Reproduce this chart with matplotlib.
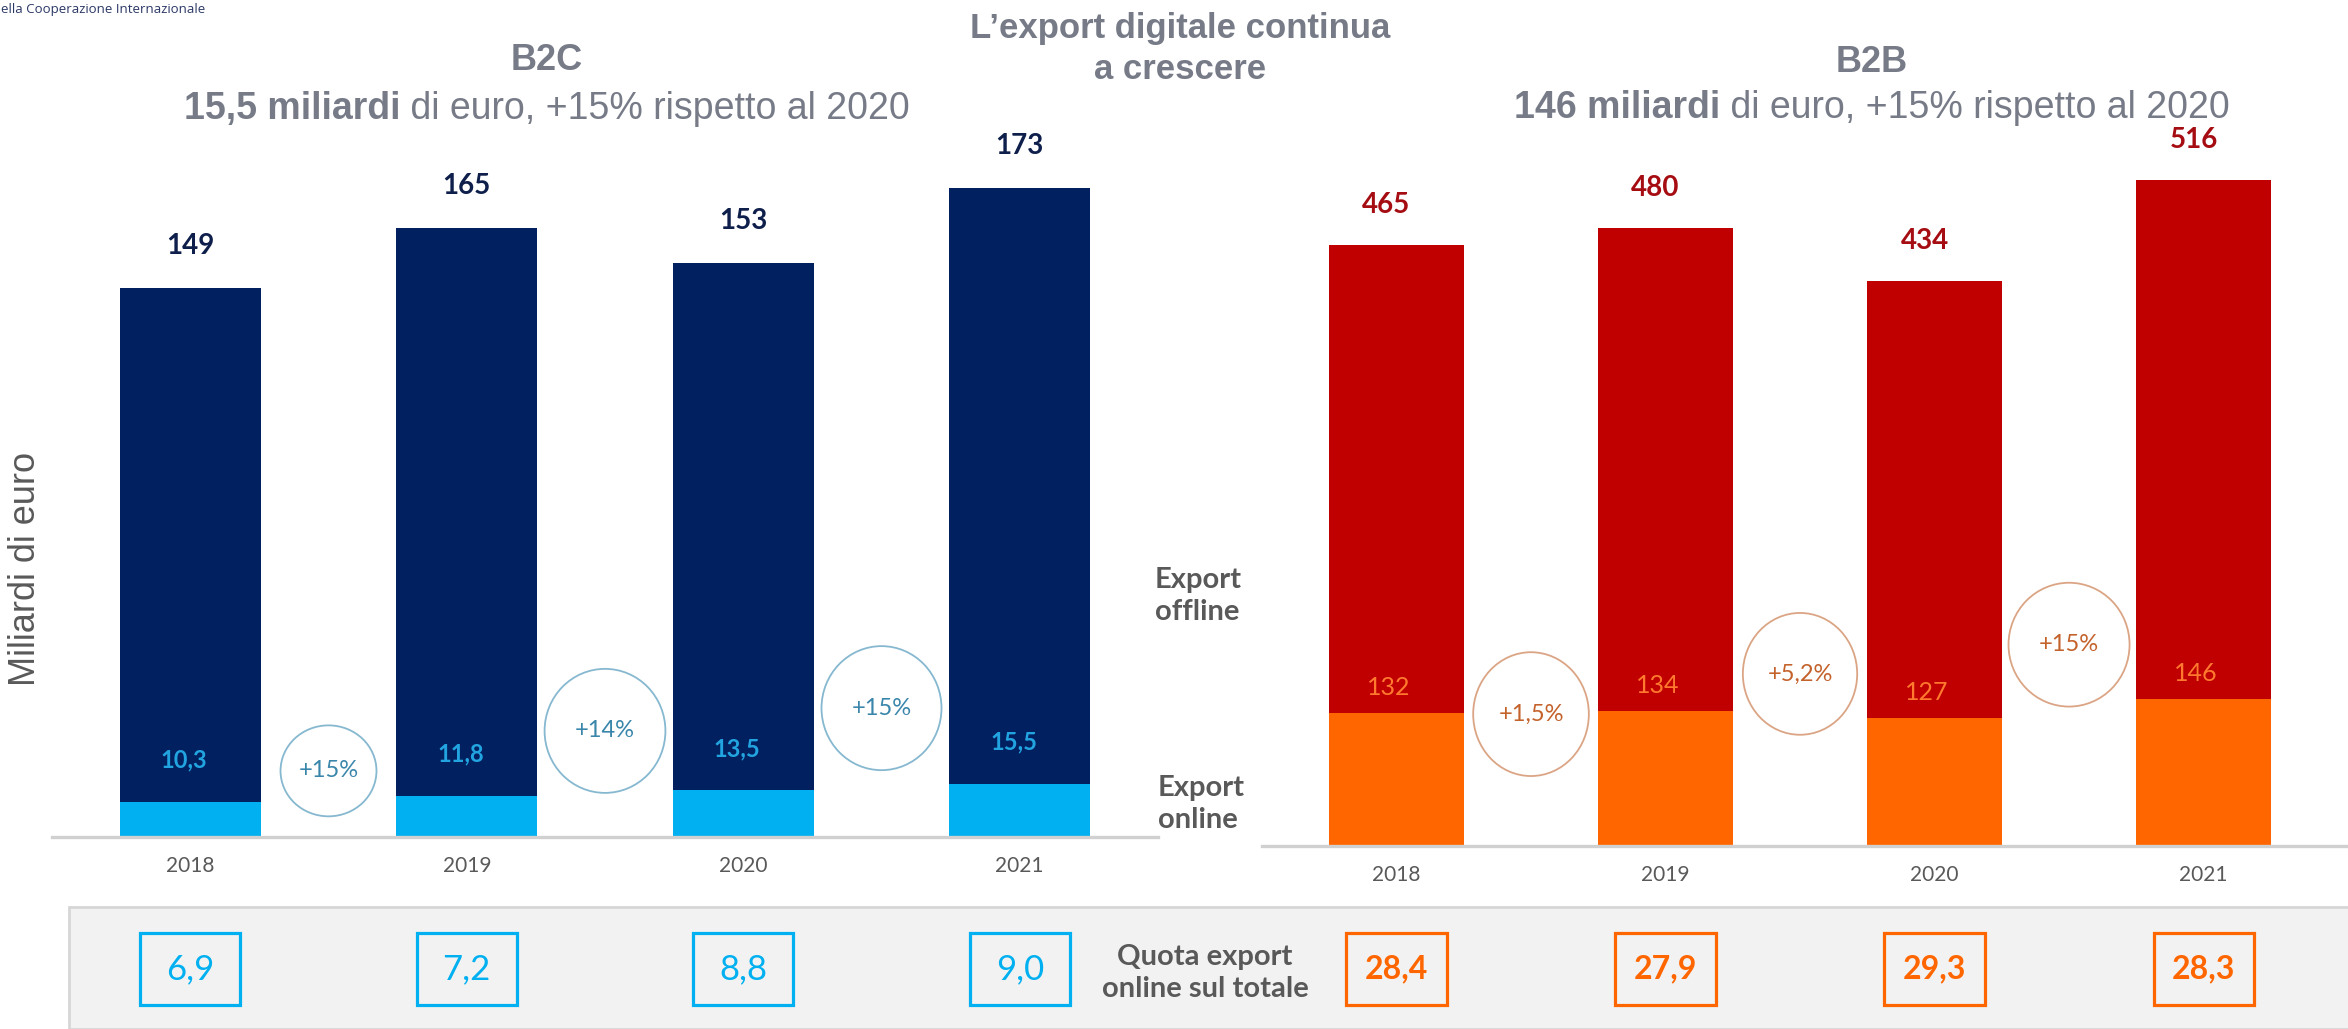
import matplotlib
matplotlib.use('Agg')
import matplotlib.pyplot as plt
from matplotlib.patches import Ellipse, Rectangle
from matplotlib.transforms import blended_transform_factory

# ---------------- data ----------------
years = ['2018', '2019', '2020', '2021']
b2c_total = [149, 165, 153, 173]
b2c_online = [10.3, 11.8, 13.5, 15.5]
b2c_growth = ['+15%', '+14%', '+15%']
b2c_share = [6.9, 7.2, 8.8, 9.0]
b2b_total = [465, 480, 434, 516]
b2b_online = [132, 134, 127, 146]
b2b_growth = ['+1,5%', '+5,2%', '+15%']
b2b_share = [28.4, 27.9, 29.3, 28.3]

# ---------------- style ----------------
CAL = ['Lato', 'DejaVu Sans']
ARIAL = ['Liberation Sans', 'DejaVu Sans']
GRAY_T = '#767b87'
DGRAY = '#595959'
NAVY = '#002060'
LBLUE = '#00b0f0'
DRED = '#c00000'
ORANGE = '#ff6600'

W, H = 2348, 1029
fig = plt.figure(figsize=(W / 100, H / 100), dpi=100)
fig.patch.set_facecolor('white')


def fx(px):
    return px / W


def fy(py):
    return (H - py) / H


def fmt(v):
    return f"{v:.1f}".replace('.', ',')


def setup(ax):
    for s in ['left', 'right', 'top']:
        ax.spines[s].set_visible(False)
    ax.spines['bottom'].set_color('#d0d0d0')
    ax.spines['bottom'].set_linewidth(2.4)
    ax.set_yticks([])
    ax.set_xticks(range(len(years)))
    ax.set_xticklabels(years, fontfamily=CAL, fontsize=15, color=DGRAY)
    ax.tick_params(axis='x', length=0, pad=14)
    ax.set_facecolor('none')


# ---------------- left: B2C ----------------
axL = fig.add_axes([fx(52), fy(837), fx(1158 - 52), (837 - 79) / H])
xs = list(range(len(years)))
axL.bar(xs, b2c_online, width=0.51, color=LBLUE, zorder=2)
axL.bar(xs, b2c_total, width=0.51, bottom=b2c_online, color=NAVY, zorder=2)
axL.set_xlim(-0.5, 3.5)
axL.set_ylim(0, 220)
setup(axL)
for i in xs:
    axL.annotate(str(b2c_total[i]), (i, b2c_online[i] + b2c_total[i]),
                 xytext=(0, 42), textcoords='offset pixels', ha='center', va='center',
                 fontfamily=CAL, fontsize=20, fontweight='bold', color='#0f1f4b')
    axL.annotate(fmt(b2c_online[i]), (i, b2c_online[i]),
                 xytext=(-6, 42), textcoords='offset pixels', ha='center', va='center',
                 fontfamily=CAL, fontsize=17, fontweight='bold', color='#22a4e0')
ell_L = [(19.2, 0.347, 26.4), (30.8, 0.437, 36.0), (37.4, 0.434, 36.0)]
for i, g in enumerate(b2c_growth):
    yc, w, h = ell_L[i]
    axL.add_patch(Ellipse((i + 0.5, yc), w, h, facecolor='white',
                          edgecolor='#86b8d0', lw=1.3, zorder=3))
    axL.text(i + 0.5, yc, g, ha='center', va='center', fontfamily=CAL,
             fontsize=17, color='#3a86ab', zorder=4)

# ---------------- right: B2B ----------------
axR = fig.add_axes([fx(1262), fy(846), fx(W - 1262), (846 - 91) / H])
axR.bar(xs, b2b_online, width=0.50, color=ORANGE, zorder=2)
axR.bar(xs, b2b_total, width=0.50, bottom=b2b_online, color=DRED, zorder=2)
axR.set_xlim(-0.5, 3.537)
axR.set_ylim(0, 750)
setup(axR)
for i in xs:
    axR.annotate(str(b2b_total[i]), (i, b2b_online[i] + b2b_total[i]),
                 xytext=(-10, 40), textcoords='offset pixels', ha='center', va='center',
                 fontfamily=CAL, fontsize=20, fontweight='bold', color='#a50d12')
    axR.annotate(str(b2b_online[i]), (i, b2b_online[i]),
                 xytext=(-8, 26), textcoords='offset pixels', ha='center', va='center',
                 fontfamily=CAL, fontsize=18, color='#ff7a2e')
ell_R = [(131, 0.43, 123), (171, 0.425, 121), (200, 0.45, 123)]
for i, g in enumerate(b2b_growth):
    yc, w, h = ell_R[i]
    axR.add_patch(Ellipse((i + 0.5, yc), w, h, facecolor='white',
                          edgecolor='#dba585', lw=1.3, zorder=3))
    axR.text(i + 0.5, yc, g, ha='center', va='center', fontfamily=CAL,
             fontsize=17, color='#c4622c', zorder=4)

# ---------------- side labels ----------------
fig.text(fx(1155), fy(596), 'Export\noffline', ha='left', va='center', fontfamily=CAL,
         fontsize=21, fontweight='bold', color=DGRAY, linespacing=1.3)
fig.text(fx(1158), fy(804), 'Export\nonline', ha='left', va='center', fontfamily=CAL,
         fontsize=21, fontweight='bold', color=DGRAY, linespacing=1.3)
fig.text(fx(26), fy(569), 'Miliardi di euro', rotation=90, ha='center', va='center',
         fontfamily=ARIAL, fontsize=26, color=DGRAY)

# ---------------- bottom band ----------------
fig.add_artist(Rectangle((fx(69), 0), fx(W - 69) + 0.01, (H - 907) / H,
                         transform=fig.transFigure, facecolor='#f2f2f2',
                         edgecolor='#d6d6d6', lw=2, zorder=0))
fig.text(fx(1205), fy(973), 'Quota export\nonline sul totale', ha='center', va='center',
         fontfamily=CAL, fontsize=21, fontweight='bold', color=DGRAY, linespacing=1.25)

for ax, shares, col, bw, bold, fs in [(axL, b2c_share, LBLUE, 0.361, 'normal', 25),
                                     (axR, b2b_share, ORANGE, 0.372, 'bold', 23)]:
    tr = blended_transform_factory(ax.transData, fig.transFigure)
    for i, v in enumerate(shares):
        fig.add_artist(Rectangle((i - bw / 2, fy(1005)), bw, 72 / H, transform=tr,
                                 facecolor='none', edgecolor=col, lw=2.3, zorder=2))
        fig.text(i, fy(969), fmt(v), transform=tr, ha='center', va='center',
                 fontfamily=CAL, fontsize=fs, fontweight=bold, color=col, zorder=3)

# ---------------- titles ----------------
fig.text(fx(1180), fy(49), 'L’export digitale continua\na crescere', ha='center', va='center',
         fontfamily=ARIAL, fontsize=25, fontweight='bold', color=GRAY_T, linespacing=1.28)
fig.text(fx(547), fy(60), 'B2C', ha='center', va='center', fontfamily=ARIAL,
         fontsize=26, fontweight='bold', color=GRAY_T)
fig.text(fx(1872), fy(62), 'B2B', ha='center', va='center', fontfamily=ARIAL,
         fontsize=26, fontweight='bold', color=GRAY_T)

renderer = fig.canvas.get_renderer()


def mixed(xc, ybase, parts, fs):
    texts = []
    for s, w in parts:
        t = fig.text(0, fy(ybase), s, ha='left', va='baseline', fontfamily=ARIAL,
                     fontsize=fs, fontweight=w, color=GRAY_T)
        texts.append(t)
    widths = [t.get_window_extent(renderer).width for t in texts]
    x = xc - sum(widths) / 2
    for t, wd in zip(texts, widths):
        t.set_x(fx(x))
        x += wd


mixed(547, 119, [('15,5 miliardi', 'bold'), (' di euro, +15% rispetto al 2020', 'normal')], 27)
mixed(1872, 118, [('146 miliardi', 'bold'), (' di euro, +15% rispetto al 2020', 'normal')], 27)

fig.text(0.0005, fy(9), 'ella Cooperazione Internazionale', ha='left', va='center',
         fontfamily=['Open Sans', 'DejaVu Sans'], fontsize=9.5, color='#2b3866')

fig.savefig('out.png', dpi=100)
